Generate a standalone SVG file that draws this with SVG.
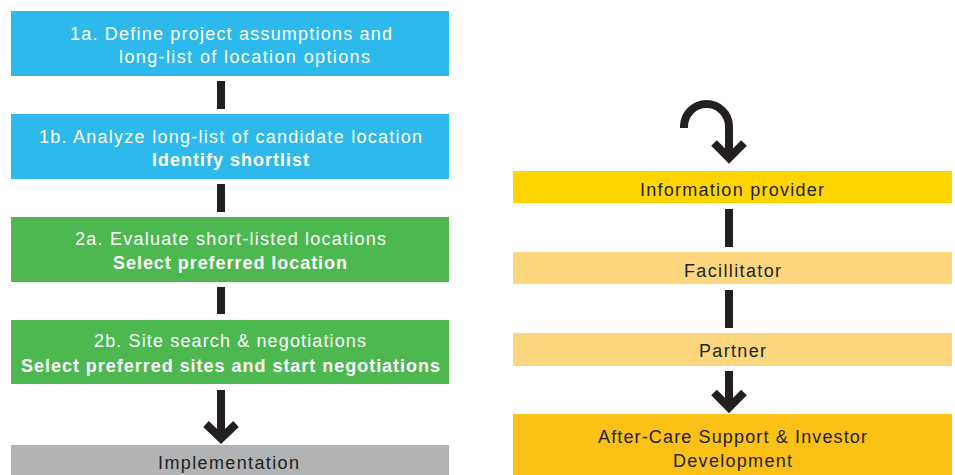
<svg xmlns="http://www.w3.org/2000/svg" width="955" height="475" viewBox="0 0 955 475">
  <style>
    .lbl { font-family: "Liberation Sans", Arial, sans-serif; font-size: 18px; }
    .w { fill: #ffffff; }
    .d { fill: #231f20; }
    .b { font-weight: bold; }
    .bar { fill: #231f20; }
    .arw { fill: none; stroke: #231f20; stroke-width: 8; stroke-linejoin: miter; stroke-linecap: butt; }
  </style>

  <!-- left column: location selection steps -->
  <g id="step-1a">
    <rect x="11" y="11" width="438" height="65" fill="#2db9ec"/>
    <text class="lbl w" x="70" y="40" textLength="322" lengthAdjust="spacing">1a. Define project assumptions and</text>
    <text class="lbl w" x="119" y="63" textLength="251" lengthAdjust="spacing">long-list of location options</text>
  </g>
  <g id="step-1b">
    <rect x="11" y="114" width="438" height="65" fill="#2db9ec"/>
    <text class="lbl w" x="39" y="143" textLength="383" lengthAdjust="spacing">1b. Analyze long-list of candidate location</text>
    <text class="lbl w b" x="152" y="166" textLength="157" lengthAdjust="spacing">Identify shortlist</text>
  </g>
  <g id="step-2a">
    <rect x="11" y="217" width="438" height="65" fill="#4cb84f"/>
    <text class="lbl w" x="75" y="245" textLength="311" lengthAdjust="spacing">2a. Evaluate short-listed locations</text>
    <text class="lbl w b" x="113" y="269" textLength="234" lengthAdjust="spacing">Select preferred location</text>
  </g>
  <g id="step-2b">
    <rect x="11" y="320" width="438" height="64" fill="#4cb84f"/>
    <text class="lbl w" x="94" y="347" textLength="272" lengthAdjust="spacing">2b. Site search &amp; negotiations</text>
    <text class="lbl w b" x="21" y="372" textLength="419" lengthAdjust="spacing">Select preferred sites and start negotiations</text>
  </g>
  <g id="implementation">
    <rect x="11" y="445" width="438" height="30" fill="#b2b3b5"/>
    <text class="lbl d" x="158" y="469" textLength="141" lengthAdjust="spacing">Implementation</text>
  </g>

  <!-- right column: agency roles -->
  <g id="information-provider">
    <rect x="513" y="171" width="439" height="32" fill="#ffd500"/>
    <text class="lbl d" x="640" y="196" textLength="184" lengthAdjust="spacing">Information provider</text>
  </g>
  <g id="facilitator">
    <rect x="513" y="252" width="439" height="32" fill="#fdd67e"/>
    <text class="lbl d" x="684" y="277" textLength="97" lengthAdjust="spacing">Facillitator</text>
  </g>
  <g id="partner">
    <rect x="513" y="333" width="439" height="33" fill="#fdd67e"/>
    <text class="lbl d" x="699" y="357" textLength="67" lengthAdjust="spacing">Partner</text>
  </g>
  <g id="after-care">
    <rect x="513" y="414" width="439" height="61" fill="#fbc117"/>
    <text class="lbl d" x="598" y="443" textLength="269" lengthAdjust="spacing">After-Care Support &amp; Investor</text>
    <text class="lbl d" x="673" y="467" textLength="119" lengthAdjust="spacing">Development</text>
  </g>

  <!-- connectors -->
  <g id="connectors">
    <rect class="bar" x="217" y="81" width="8" height="28"/>
    <rect class="bar" x="217" y="184" width="8" height="28"/>
    <rect class="bar" x="217" y="287" width="8" height="27"/>
    <path class="arw" d="M221,390 V437"/>
    <polyline class="arw" points="206,424 221,438.5 236,424"/>

    <path class="arw" d="M684,128 V126.5 A22.5,22.5 0 0 1 729,126.5 V157"/>
    <polyline class="arw" points="714,143 729,158 744,143"/>
    <rect class="bar" x="725" y="209" width="8" height="38"/>
    <rect class="bar" x="725" y="290" width="8" height="38"/>
    <path class="arw" d="M729,371 V406"/>
    <polyline class="arw" points="714,392.5 729,407.5 744,392.5"/>
  </g>
</svg>
